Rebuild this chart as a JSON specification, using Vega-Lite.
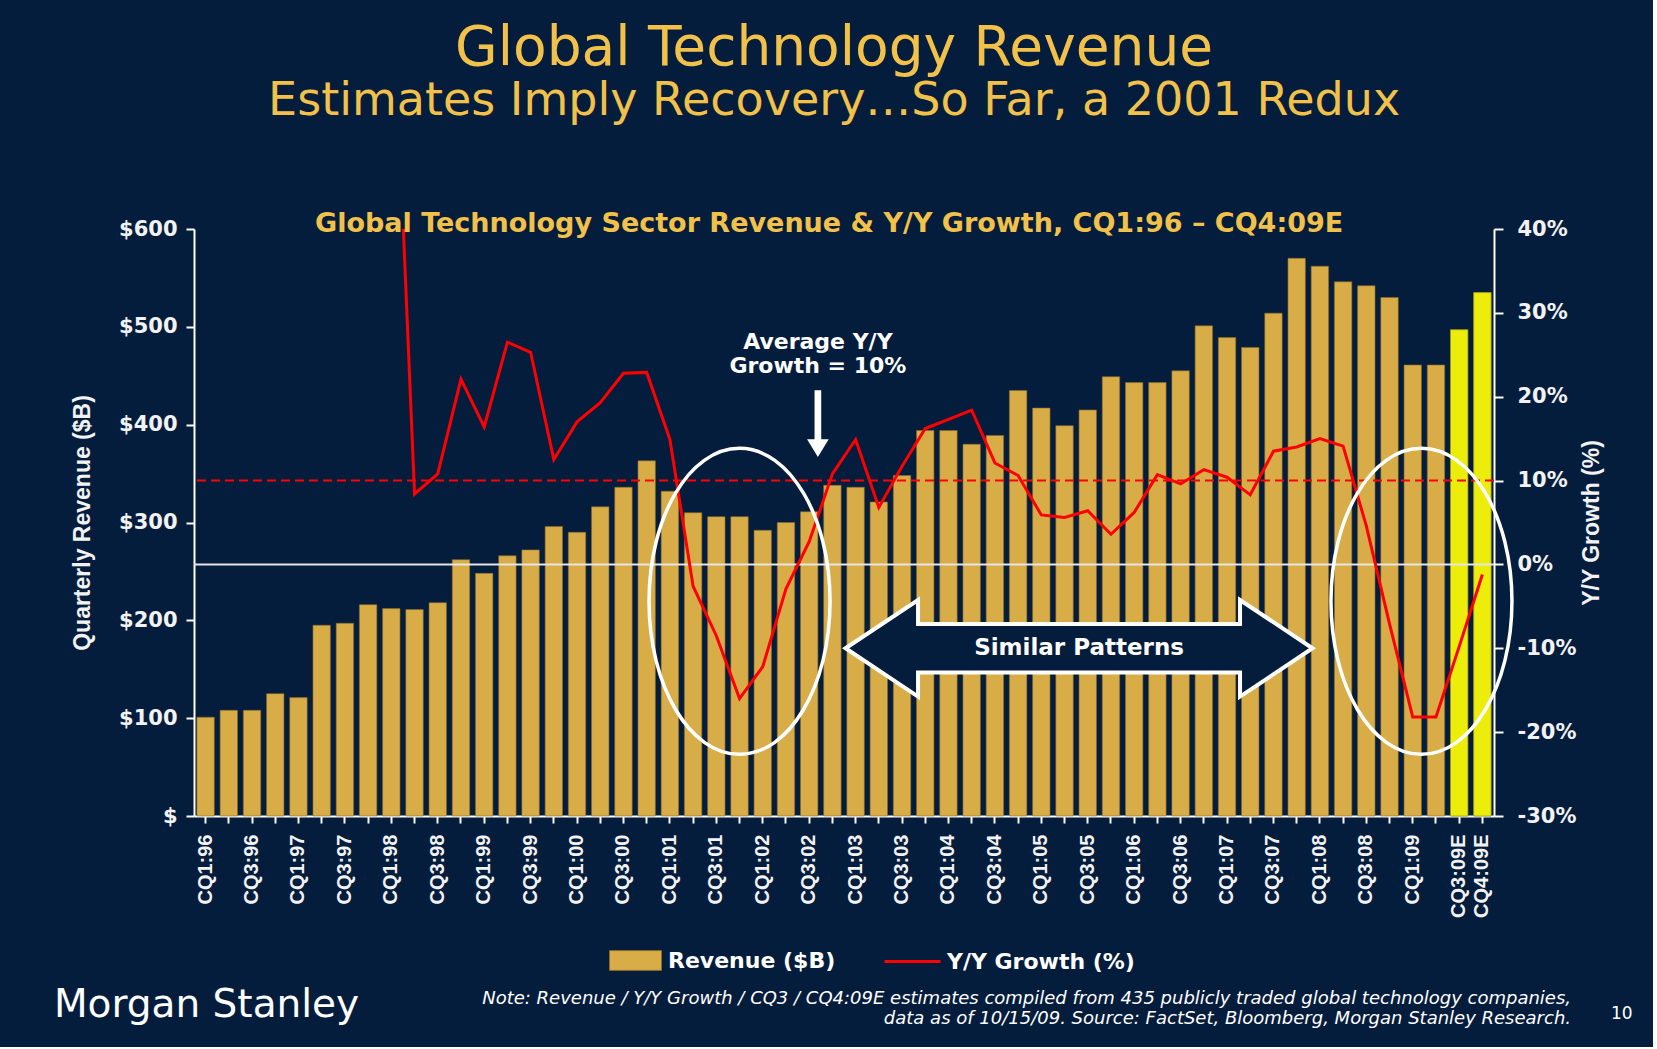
{
  "$schema": "https://vega.github.io/schema/vega-lite/v6.json",
  "background": "#051d3d",
  "padding": {"left": 53, "top": 21, "right": 20, "bottom": 18},
  "width": 1300,
  "height": 587,
  "config": {"view": {"stroke": null}, "font": "DejaVu Sans"},
  "datasets": {
    "rev": [
      {"q": "CQ1:96", "rev": 101, "g": null},
      {"q": "CQ2:96", "rev": 108, "g": null},
      {"q": "CQ3:96", "rev": 108, "g": null},
      {"q": "CQ4:96", "rev": 125, "g": null},
      {"q": "CQ1:97", "rev": 121, "g": null},
      {"q": "CQ2:97", "rev": 195, "g": null},
      {"q": "CQ3:97", "rev": 197, "g": null},
      {"q": "CQ4:97", "rev": 216, "g": null},
      {"q": "CQ1:98", "rev": 212, "g": 74},
      {"q": "CQ2:98", "rev": 211, "g": 8.4},
      {"q": "CQ3:98", "rev": 218, "g": 10.8},
      {"q": "CQ4:98", "rev": 262, "g": 22.1},
      {"q": "CQ1:99", "rev": 248, "g": 16.4},
      {"q": "CQ2:99", "rev": 266, "g": 26.5},
      {"q": "CQ3:99", "rev": 272, "g": 25.3},
      {"q": "CQ4:99", "rev": 296, "g": 12.5},
      {"q": "CQ1:00", "rev": 290, "g": 17.0},
      {"q": "CQ2:00", "rev": 316, "g": 19.3},
      {"q": "CQ3:00", "rev": 336, "g": 22.8},
      {"q": "CQ4:00", "rev": 363, "g": 22.9},
      {"q": "CQ1:01", "rev": 332, "g": 14.9},
      {"q": "CQ2:01", "rev": 310, "g": -2.6},
      {"q": "CQ3:01", "rev": 306, "g": -8.5},
      {"q": "CQ4:01", "rev": 306, "g": -16.0},
      {"q": "CQ1:02", "rev": 292, "g": -12.2},
      {"q": "CQ2:02", "rev": 300, "g": -2.9},
      {"q": "CQ3:02", "rev": 311, "g": 2.7},
      {"q": "CQ4:02", "rev": 338, "g": 10.8},
      {"q": "CQ1:03", "rev": 336, "g": 14.9},
      {"q": "CQ2:03", "rev": 321, "g": 6.8},
      {"q": "CQ3:03", "rev": 348, "g": 11.7},
      {"q": "CQ4:03", "rev": 394, "g": 16.2},
      {"q": "CQ1:04", "rev": 394, "g": 17.3},
      {"q": "CQ2:04", "rev": 380, "g": 18.4},
      {"q": "CQ3:04", "rev": 389, "g": 12.1},
      {"q": "CQ4:04", "rev": 435, "g": 10.6},
      {"q": "CQ1:05", "rev": 417, "g": 5.9},
      {"q": "CQ2:05", "rev": 399, "g": 5.6},
      {"q": "CQ3:05", "rev": 415, "g": 6.4},
      {"q": "CQ4:05", "rev": 449, "g": 3.6},
      {"q": "CQ1:06", "rev": 443, "g": 6.2},
      {"q": "CQ2:06", "rev": 443, "g": 10.7},
      {"q": "CQ3:06", "rev": 455, "g": 9.6},
      {"q": "CQ4:06", "rev": 501, "g": 11.3},
      {"q": "CQ1:07", "rev": 489, "g": 10.4},
      {"q": "CQ2:07", "rev": 479, "g": 8.3},
      {"q": "CQ3:07", "rev": 514, "g": 13.5},
      {"q": "CQ4:07", "rev": 570, "g": 14.0},
      {"q": "CQ1:08", "rev": 562, "g": 15.0},
      {"q": "CQ2:08", "rev": 546, "g": 14.1},
      {"q": "CQ3:08", "rev": 542, "g": 4.6},
      {"q": "CQ4:08", "rev": 530, "g": -7.1},
      {"q": "CQ1:09", "rev": 461, "g": -18.2},
      {"q": "CQ2:09", "rev": 461, "g": -18.2},
      {"q": "CQ3:09E", "rev": 497, "g": -9.8},
      {"q": "CQ4:09E", "rev": 535, "g": -1.2}
    ]
  },
  "data": {"name": "rev"},
  "layer": [
    {
      "layer": [
        {
          "mark": {"type": "bar", "stroke": "#8a6a28", "strokeWidth": 0.6},
          "encoding": {
            "x": {
              "field": "q",
              "type": "nominal",
              "scale": {
                "domain": ["CQ1:96","CQ2:96","CQ3:96","CQ4:96","CQ1:97","CQ2:97","CQ3:97","CQ4:97","CQ1:98","CQ2:98","CQ3:98","CQ4:98","CQ1:99","CQ2:99","CQ3:99","CQ4:99","CQ1:00","CQ2:00","CQ3:00","CQ4:00","CQ1:01","CQ2:01","CQ3:01","CQ4:01","CQ1:02","CQ2:02","CQ3:02","CQ4:02","CQ1:03","CQ2:03","CQ3:03","CQ4:03","CQ1:04","CQ2:04","CQ3:04","CQ4:04","CQ1:05","CQ2:05","CQ3:05","CQ4:05","CQ1:06","CQ2:06","CQ3:06","CQ4:06","CQ1:07","CQ2:07","CQ3:07","CQ4:07","CQ1:08","CQ2:08","CQ3:08","CQ4:08","CQ1:09","CQ2:09","CQ3:09E","CQ4:09E"],
                "paddingInner": 0.25,
                "paddingOuter": 0.125
              },
              "axis": {
                "title": null,
                "labelAngle": 270,
                "labelExpr": "indexof(datum.value, 'CQ1') == 0 || indexof(datum.value, 'CQ3') == 0 || datum.value == 'CQ4:09E' ? datum.value : ''",
                "labelFont": "Liberation Sans",
                "labelFontWeight": "bold",
                "labelFontSize": 20,
                "labelColor": "#f2f2f2",
                "labelPadding": 11,
                "tickSize": 7,
                "tickColor": "#ffffff",
                "tickWidth": 2,
                "domainColor": "#ffffff",
                "domainWidth": 2,
                "grid": false
              }
            },
            "y": {
              "field": "rev",
              "type": "quantitative",
              "scale": {"domain": [0, 600], "nice": false},
              "axis": {
                "orient": "left",
                "title": "Quarterly Revenue ($B)",
                "values": [0, 100, 200, 300, 400, 500, 600],
                "labelExpr": "datum.value == 0 ? '$' : '$' + datum.value",
                "labelFont": "DejaVu Sans",
                "labelFontWeight": "bold",
                "labelFontSize": 21,
                "labelColor": "#f2f2f2",
                "labelPadding": 9,
                "tickSize": 8,
                "tickColor": "#ffffff",
                "tickWidth": 2,
                "domainColor": "#ffffff",
                "domainWidth": 2,
                "grid": false,
                "titleFont": "Liberation Sans",
                "titleFontWeight": "bold",
                "titleFontSize": 23,
                "titleColor": "#f2f2f2",
                "titlePadding": 24
              }
            },
            "fill": {
              "datum": "Revenue ($B)",
              "type": "nominal",
              "scale": {"range": ["#d8ad47"]},
              "legend": {
                "orient": "none",
                "legendX": 415,
                "legendY": 705,
                "direction": "horizontal",
                "title": null,
                "padding": 0,
                "labelFont": "DejaVu Sans",
                "labelFontWeight": "bold",
                "labelFontSize": 22,
                "labelColor": "#ffffff",
                "labelLimit": 400,
                "labelOffset": 6,
                "symbolType": "M -1 -0.38 L 1 -0.38 L 1 0.38 L -1 0.38 Z",
                "symbolSize": 2704,
                "symbolStrokeColor": "#8a6a28",
                "symbolStrokeWidth": 1,
                "symbolOpacity": 1
              }
            }
          }
        },
        {
          "transform": [{"filter": "indexof(datum.q, 'E') >= 0"}],
          "mark": {"type": "bar", "fill": "#eded0c", "stroke": "#8a8a10", "strokeWidth": 0.6},
          "encoding": {
            "x": {"field": "q", "type": "nominal"},
            "y": {"field": "rev", "type": "quantitative"}
          }
        }
      ]
    },
    {
      "layer": [
        {
          "data": {"values": [{"v": 0}]},
          "mark": {"type": "rule", "stroke": "#e6e6e6", "strokeWidth": 2},
          "encoding": {"y": {"field": "v", "type": "quantitative"}}
        },
        {
          "data": {"values": [{"v": 10}]},
          "mark": {"type": "rule", "stroke": "#ff0000", "strokeWidth": 2, "strokeDash": [9, 5]},
          "encoding": {"y": {"field": "v", "type": "quantitative"}}
        },
        {
          "transform": [{"filter": "isValid(datum.g)"}],
          "mark": {"type": "line", "strokeWidth": 3, "clip": true},
          "encoding": {
            "x": {"field": "q", "type": "nominal"},
            "y": {
              "field": "g",
              "type": "quantitative",
              "scale": {"domain": [-30, 40], "nice": false},
              "axis": {
                "orient": "right",
                "title": "Y/Y Growth (%)",
                "values": [-30, -20, -10, 0, 10, 20, 30, 40],
                "labelExpr": "datum.value + '%'",
                "labelFont": "DejaVu Sans",
                "labelFontWeight": "bold",
                "labelFontSize": 21,
                "labelColor": "#f2f2f2",
                "labelPadding": 14,
                "tickSize": 9,
                "tickColor": "#ffffff",
                "tickWidth": 2,
                "domainColor": "#ffffff",
                "domainWidth": 2,
                "grid": false,
                "titleAngle": 270,
                "titleFont": "Liberation Sans",
                "titleFontWeight": "bold",
                "titleFontSize": 23,
                "titleColor": "#f2f2f2",
                "titlePadding": 28
              }
            },
            "stroke": {
              "datum": "Y/Y Growth (%)",
              "type": "nominal",
              "scale": {"range": ["#ff0000"]},
              "legend": {
                "orient": "none",
                "legendX": 689,
                "legendY": 703,
                "direction": "horizontal",
                "title": null,
                "padding": 0,
                "labelFont": "DejaVu Sans",
                "labelFontWeight": "bold",
                "labelFontSize": 22,
                "labelColor": "#ffffff",
                "labelLimit": 400,
                "labelOffset": 5,
                "symbolType": "stroke",
                "symbolSize": 3136,
                "symbolStrokeWidth": 3,
                "symbolOpacity": 1
              }
            }
          }
        },
        {
          "data": {"values": [{}]},
          "mark": {"type": "point", "shape": "M 0.5915 0 C 0.5915 0.5523 0.3267 1 0 1 C -0.3267 1 -0.5915 0.5523 -0.5915 0 C -0.5915 -0.5523 -0.3267 -1 0 -1 C 0.3267 -1 0.5915 -0.5523 0.5915 0 Z", "size": 93636, "filled": false, "stroke": "#ffffff", "strokeWidth": 3.5, "opacity": 1},
          "encoding": {"x": {"datum": "CQ4:01", "type": "nominal"}, "y": {"datum": -4.4, "type": "quantitative"}}
        },
        {
          "data": {"values": [{}]},
          "mark": {"type": "point", "shape": "M 0.5915 0 C 0.5915 0.5523 0.3267 1 0 1 C -0.3267 1 -0.5915 0.5523 -0.5915 0 C -0.5915 -0.5523 -0.3267 -1 0 -1 C 0.3267 -1 0.5915 -0.5523 0.5915 0 Z", "size": 93636, "filled": false, "stroke": "#ffffff", "strokeWidth": 3.5, "opacity": 1},
          "encoding": {"x": {"datum": "CQ1:09", "type": "nominal", "bandPosition": 1}, "y": {"datum": -4.4, "type": "quantitative"}}
        },
        {
          "data": {"values": [{}]},
          "mark": {"type": "point", "shape": "M -1 0 L -0.6895 -0.2069 L -0.6895 -0.1036 L 0.6895 -0.1036 L 0.6895 -0.2069 L 1 0 L 0.6895 0.2069 L 0.6895 0.1036 L -0.6895 0.1036 L -0.6895 0.2069 Z", "size": 218089, "filled": true, "fill": "#051d3d", "stroke": "#ffffff", "strokeWidth": 4, "opacity": 1},
          "encoding": {"x": {"datum": "CQ3:05", "type": "nominal", "bandPosition": 0}, "y": {"datum": -10, "type": "quantitative"}}
        },
        {
          "data": {"values": [{}]},
          "mark": {"type": "text", "text": "Similar Patterns", "align": "center", "baseline": "middle", "font": "DejaVu Sans", "fontWeight": "bold", "fontSize": 23, "fill": "#ffffff"},
          "encoding": {"x": {"datum": "CQ3:05", "type": "nominal", "bandPosition": 0}, "y": {"datum": -10, "type": "quantitative"}}
        },
        {
          "data": {"values": [{}]},
          "mark": {"type": "point", "shape": "M -0.1 -1 L 0.1 -1 L 0.1 0.468 L 0.325 0.468 L 0 1 L -0.325 0.468 L -0.1 0.468 Z", "size": 4449, "filled": true, "fill": "#ffffff", "strokeWidth": 0, "opacity": 1},
          "encoding": {"x": {"datum": "CQ3:02", "type": "nominal", "bandPosition": 1}, "y": {"datum": 16.8, "type": "quantitative"}}
        },
        {
          "data": {"values": [{}]},
          "mark": {"type": "text", "text": ["Average Y/Y", "Growth = 10%"], "lineHeight": 24, "align": "center", "baseline": "alphabetic", "font": "DejaVu Sans", "fontWeight": "bold", "fontSize": 22, "fill": "#ffffff"},
          "encoding": {"x": {"datum": "CQ3:02", "type": "nominal", "bandPosition": 1}, "y": {"datum": 25.7, "type": "quantitative"}}
        },
        {
          "data": {"values": [{}]},
          "mark": {"type": "text", "text": "Global Technology Sector Revenue & Y/Y Growth, CQ1:96 – CQ4:09E", "align": "center", "baseline": "alphabetic", "font": "DejaVu Sans", "fontWeight": "bold", "fontSize": 27, "fill": "#f2c14a"},
          "encoding": {"x": {"datum": "CQ4:02", "type": "nominal", "bandPosition": 0.31}, "y": {"datum": 39.6, "type": "quantitative"}}
        },
        {
          "data": {"values": [{}]},
          "mark": {"type": "text", "text": "Global Technology Revenue", "align": "center", "baseline": "alphabetic", "font": "DejaVu Sans", "fontSize": 55, "fill": "#f2c14a"},
          "encoding": {"x": {"datum": "CQ4:02", "type": "nominal", "bandPosition": 0.6}, "y": {"datum": 59.5, "type": "quantitative"}}
        },
        {
          "data": {"values": [{}]},
          "mark": {"type": "text", "text": "Estimates Imply Recovery…So Far, a 2001 Redux", "align": "center", "baseline": "alphabetic", "font": "DejaVu Sans", "fontSize": 46, "fill": "#f2c14a"},
          "encoding": {"x": {"datum": "CQ4:02", "type": "nominal", "bandPosition": 0.6}, "y": {"datum": 53.6, "type": "quantitative"}}
        },
        {
          "data": {"values": [{}]},
          "mark": {"type": "text", "text": "Morgan Stanley", "align": "left", "baseline": "alphabetic", "font": "DejaVu Sans", "fontSize": 39, "fill": "#ffffff"},
          "encoding": {"x": {"datum": "CQ1:96", "type": "nominal", "bandPosition": -8.21}, "y": {"datum": -53.97, "type": "quantitative"}}
        },
        {
          "data": {"values": [{}]},
          "mark": {"type": "text", "text": ["Note: Revenue / Y/Y Growth / CQ3 / CQ4:09E estimates compiled from 435 publicly traded global technology companies,", "data as of 10/15/09. Source: FactSet, Bloomberg, Morgan Stanley Research."], "lineHeight": 20, "align": "right", "baseline": "alphabetic", "font": "DejaVu Sans", "fontStyle": "italic", "fontSize": 18, "fill": "#ffffff"},
          "encoding": {"x": {"datum": "CQ4:09E", "type": "nominal", "bandPosition": 5.59}, "y": {"datum": -52.42, "type": "quantitative"}}
        },
        {
          "data": {"values": [{}]},
          "mark": {"type": "text", "text": "10", "align": "left", "baseline": "alphabetic", "font": "DejaVu Sans", "fontSize": 17, "fill": "#ffffff"},
          "encoding": {"x": {"datum": "CQ4:09E", "type": "nominal", "bandPosition": 7.89}, "y": {"datum": -54.2, "type": "quantitative"}}
        }
      ]
    }
  ],
  "resolve": {"scale": {"y": "independent"}, "axis": {"y": "independent"}}
}
